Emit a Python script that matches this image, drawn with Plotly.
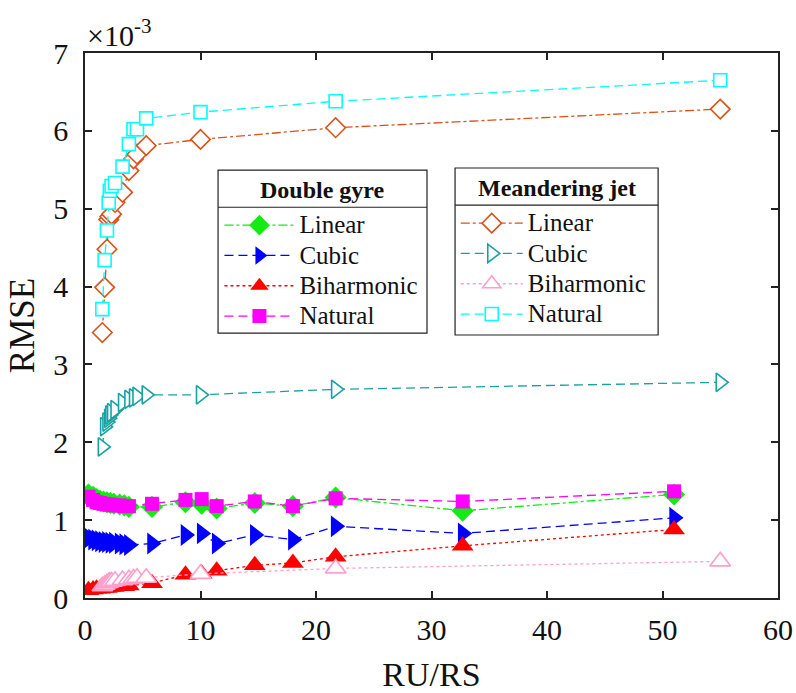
import plotly.graph_objects as go

# RMSE values are stored in units of 1e-3
# Double gyre experiments
dg_x = [0.3, 0.7, 1.0, 1.3, 1.6, 1.9, 2.2, 2.5, 3.0, 3.4, 3.8, 5.8, 8.7, 10.1, 11.4, 14.7, 18.0, 21.7, 32.7, 51.0]
dg_linear = [1.33, 1.30, 1.27, 1.25, 1.24, 1.23, 1.22, 1.21, 1.20, 1.19, 1.17, 1.17, 1.23, 1.21, 1.15, 1.22, 1.18, 1.29, 1.12, 1.33]
dg_cubic = [0.77, 0.75, 0.74, 0.73, 0.72, 0.72, 0.71, 0.71, 0.70, 0.69, 0.68, 0.70, 0.81, 0.83, 0.70, 0.81, 0.75, 0.92, 0.83, 1.03]
dg_biharmonic = [0.10, 0.11, 0.12, 0.12, 0.13, 0.13, 0.14, 0.14, 0.15, 0.15, 0.16, 0.19, 0.30, 0.31, 0.35, 0.42, 0.45, 0.53, 0.67, 0.88]
dg_natural = [1.30, 1.26, 1.23, 1.22, 1.21, 1.20, 1.20, 1.19, 1.19, 1.18, 1.18, 1.21, 1.26, 1.27, 1.18, 1.24, 1.18, 1.28, 1.24, 1.37]

# Meandering jet experiments
mj_x = [1.5, 1.7, 1.9, 2.05, 2.15, 2.3, 2.6, 3.25, 3.8, 4.2, 4.5, 5.3, 10.0, 21.7, 55.0]
mj_linear = [3.41, 3.99, 4.48, 4.86, 4.90, 4.93, 5.08, 5.21, 5.49, 5.64, 5.70, 5.81, 5.89, 6.04, 6.28]
mj_cubic = [1.94, 2.20, 2.26, 2.31, 2.35, 2.38, 2.42, 2.51, 2.55, 2.57, 2.59, 2.61, 2.61, 2.68, 2.77]
mj_biharmonic = [0.15, 0.17, 0.19, 0.20, 0.21, 0.21, 0.22, 0.23, 0.24, 0.25, 0.26, 0.26, 0.31, 0.38, 0.47]
mj_natural = [3.71, 4.34, 4.72, 5.08, 5.23, 5.29, 5.33, 5.54, 5.83, 6.02, 6.02, 6.16, 6.24, 6.38, 6.65]

x_ticks = [0, 10, 20, 30, 40, 50, 60]
y_ticks = [0, 1, 2, 3, 4, 5, 6, 7]

FONT = "Liberation Serif"
DASH = "9px,5px"


def label(t):
    # larger glyphs than the row spacing the legend font implies
    return f'<span style="font-size:25px">{t}</span>'


series = [
    # name, x, y, colour, dash, symbol, size, legend
    ("Linear", dg_x, dg_linear, "#14ea14", "dashdot", "diamond", 17, "legend"),
    ("Cubic", dg_x, dg_cubic, "#0000ff", DASH, "triangle-right", 19, "legend"),
    ("Biharmonic", dg_x, dg_biharmonic, "#ff0000", "dot", "triangle-up", 19, "legend"),
    ("Natural", dg_x, dg_natural, "#ff00ff", DASH, "square", 14, "legend"),
    ("Linear", mj_x, mj_linear, "#d95319", "dashdot", "diamond-open", 15, "legend2"),
    ("Cubic", mj_x, mj_cubic, "#17a2a2", DASH, "triangle-right-open", 16, "legend2"),
    ("Biharmonic", mj_x, mj_biharmonic, "#ff9fcb", "dot", "triangle-up-open", 18, "legend2"),
    ("Natural", mj_x, mj_natural, "#00ffff", DASH, "square-open", 13, "legend2"),
]

fig = go.Figure()
for name, xs, ys, col, dash, sym, size, leg in series:
    filled = not sym.endswith("open")
    fig.add_trace(go.Scatter(
        x=xs, y=ys, name=label(name), legend=leg, mode="lines+markers",
        line=dict(color=col, width=1.3, dash=dash),
        marker=dict(symbol=sym.replace("-open", ""), size=size,
                    color=col if filled else "white",
                    line=dict(color=col, width=0 if filled else 1.6)),
    ))

# legend frames with a rule under each heading
frames = [
    (0.192, 0.4935, 0.486, 0.785, 0.717),
    (0.534, 0.827, 0.4826, 0.789, 0.721),
]
shapes = []
for x0, x1, y0, y1, ysep in frames:
    shapes.append(dict(type="rect", xref="paper", yref="paper", x0=x0, x1=x1, y0=y0, y1=y1,
                       line=dict(color="#222", width=1.2), fillcolor="white", layer="below"))
    shapes.append(dict(type="line", xref="paper", yref="paper", x0=x0, x1=x1, y0=ysep, y1=ysep,
                       line=dict(color="#222", width=1.2), layer="above"))

legend_common = dict(
    bgcolor="rgba(0,0,0,0)", borderwidth=0, font=dict(family=FONT, size=21, color="#111"),
    yanchor="top", xanchor="left",
)

headings = [
    ("<b>Double gyre</b>", 0.3427, 0.7486),
    ("<b>Meandering jet</b>", 0.6804, 0.7523),
]
annotations = [dict(text=t, xref="paper", yref="paper", x=x, y=y, xanchor="center",
                    yanchor="middle", showarrow=False,
                    font=dict(family=FONT, size=24, color="#111"))
               for t, x, y in headings]
annotations.append(dict(text="×10<sup>-3</sup>", xref="paper", yref="paper", x=0.0, y=1.0,
                        xanchor="left", yanchor="bottom", showarrow=False, yshift=-1,
                        font=dict(family=FONT, size=30, color="#111")))

fig.update_layout(
    width=796, height=693,
    margin=dict(l=85, r=18, t=53, b=95),
    plot_bgcolor="white", paper_bgcolor="white",
    font=dict(family=FONT, color="#111"),
    shapes=shapes,
    legend=dict(**legend_common, itemwidth=70, x=0.194, y=0.7211),
    legend2=dict(**legend_common, itemwidth=62, x=0.535, y=0.7248),
    xaxis=dict(range=[0, 60], tickvals=x_ticks, ticks="inside", ticklen=7, tickwidth=1.5,
               tickcolor="#222", showline=True, linecolor="#222", linewidth=1.5, mirror="ticks",
               showgrid=False, zeroline=False, tickfont=dict(family=FONT, size=30),
               ticklabelstandoff=4, automargin=False,
               title=dict(text="RU/RS", font=dict(family=FONT, size=34), standoff=18)),
    yaxis=dict(range=[0, 7], tickvals=y_ticks, ticks="inside", ticklen=7, tickwidth=1.5,
               tickcolor="#222", showline=True, linecolor="#222", linewidth=1.5, mirror="ticks",
               showgrid=False, zeroline=False, tickfont=dict(family=FONT, size=30),
               ticklabelstandoff=9, automargin=False,
               title=dict(text="RMSE", font=dict(family=FONT, size=35), standoff=8)),
    annotations=annotations,
)

fig.write_html("out.html")
